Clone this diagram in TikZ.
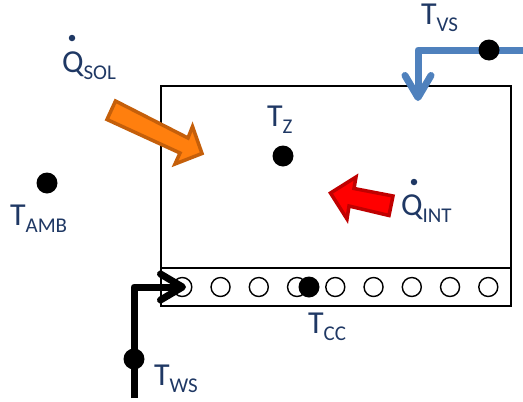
\documentclass[tikz,border=0pt]{standalone}
\usepackage{fontspec}
\setmainfont{Carlito}
\usetikzlibrary{arrows.meta}
\definecolor{labelblue}{HTML}{1F3864}
\definecolor{pipeblue}{HTML}{4F81BD}
\definecolor{solfill}{HTML}{FF7F0E}
\definecolor{soledge}{HTML}{C55F0A}
\definecolor{intedge}{HTML}{C00000}
\newcommand{\sublabel}[2]{#1\raisebox{-7.5pt}{\fontsize{21}{21}\selectfont #2}}
\tikzset{
	tlabel/.style={anchor=base west, inner sep=0pt, outer sep=0pt, text=labelblue, font=\fontsize{32}{32}\selectfont},
	blackdot/.style={circle, fill=black, inner sep=0pt, minimum size=21pt},
	qdot/.style={circle, fill=labelblue, inner sep=0pt, minimum size=6.5pt},
	tube/.style={circle, draw=black, line width=1.4pt, fill=white, inner sep=0pt, minimum size=19pt},
	pipe/.style={line width=7pt, line join=round, -{Straight Barb[length=22pt, width=26pt, round]}},
	gainarrow/.style={line width=3.5pt, line join=miter, miter limit=10}
}
\begin{document}
\begin{tikzpicture}[x=1pt, y=-1pt, line cap=butt]
	\useasboundingbox (0, 0) rectangle (523, 402);
	\draw[line width=1.5pt] (161, 86) rectangle (511, 268);
	\draw[line width=1.8pt] (161, 268) rectangle (511, 306);
	\foreach \i in {0,...,8} \node[tube] (c\i) at ({182.3 + 38.25*\i}, 287) {};
	\coordinate (vsin) at (523, 50);
	\coordinate (vsbend) at (418, 50);
	\coordinate (vsout) at (418, 101);
	\coordinate (wsin) at (134, 398);
	\coordinate (wsbend) at (134, 287);
	\coordinate (wsout) at (186, 287);
	\draw[pipe, pipeblue] (vsin) -- (vsbend) -- (vsout);
	\draw[pipe, black] (wsin) -- (wsbend) -- (wsout);
	\node[blackdot] (tvs) at (489, 50) {};
	\node[blackdot] (tws) at (134, 359) {};
	\node[blackdot] (tcc) at (309, 287) {};
	\node[blackdot] (tz) at (283, 156) {};
	\node[blackdot] (tamb) at (47, 183) {};
	\draw[gainarrow, draw=soledge, fill=solfill] (115.5, 101) -- (188, 138) -- (192.5, 126.5) -- (202, 153.5) -- (175, 164) -- (180, 153) -- (107, 119.5) -- cycle;
	\draw[gainarrow, draw=intedge, fill=red] (393, 196) -- (354, 188.5) -- (356, 177) -- (330.5, 193) -- (347, 219) -- (349, 206) -- (389, 215.5) -- cycle;
	\node[tlabel] (ltvs) at (421, 24) {\sublabel{T}{VS}};
	\node[tlabel] (ltz) at (267, 126) {\sublabel{T}{Z}};
	\node[tlabel] (ltamb) at (10, 225) {\sublabel{T}{AMB}};
	\node[tlabel] (ltcc) at (308, 333) {\sublabel{T}{CC}};
	\node[tlabel] (ltws) at (154, 385) {\sublabel{T}{WS}};
	\node[tlabel] (lqsol) at (62, 72) {\sublabel{Q}{SOL}};
	\node[tlabel] (lqint) at (401, 215) {\sublabel{Q}{INT}};
	\node[qdot] (dsol) at (72, 38) {};
	\node[qdot] (dint) at (414, 182) {};
\end{tikzpicture}
\end{document}
